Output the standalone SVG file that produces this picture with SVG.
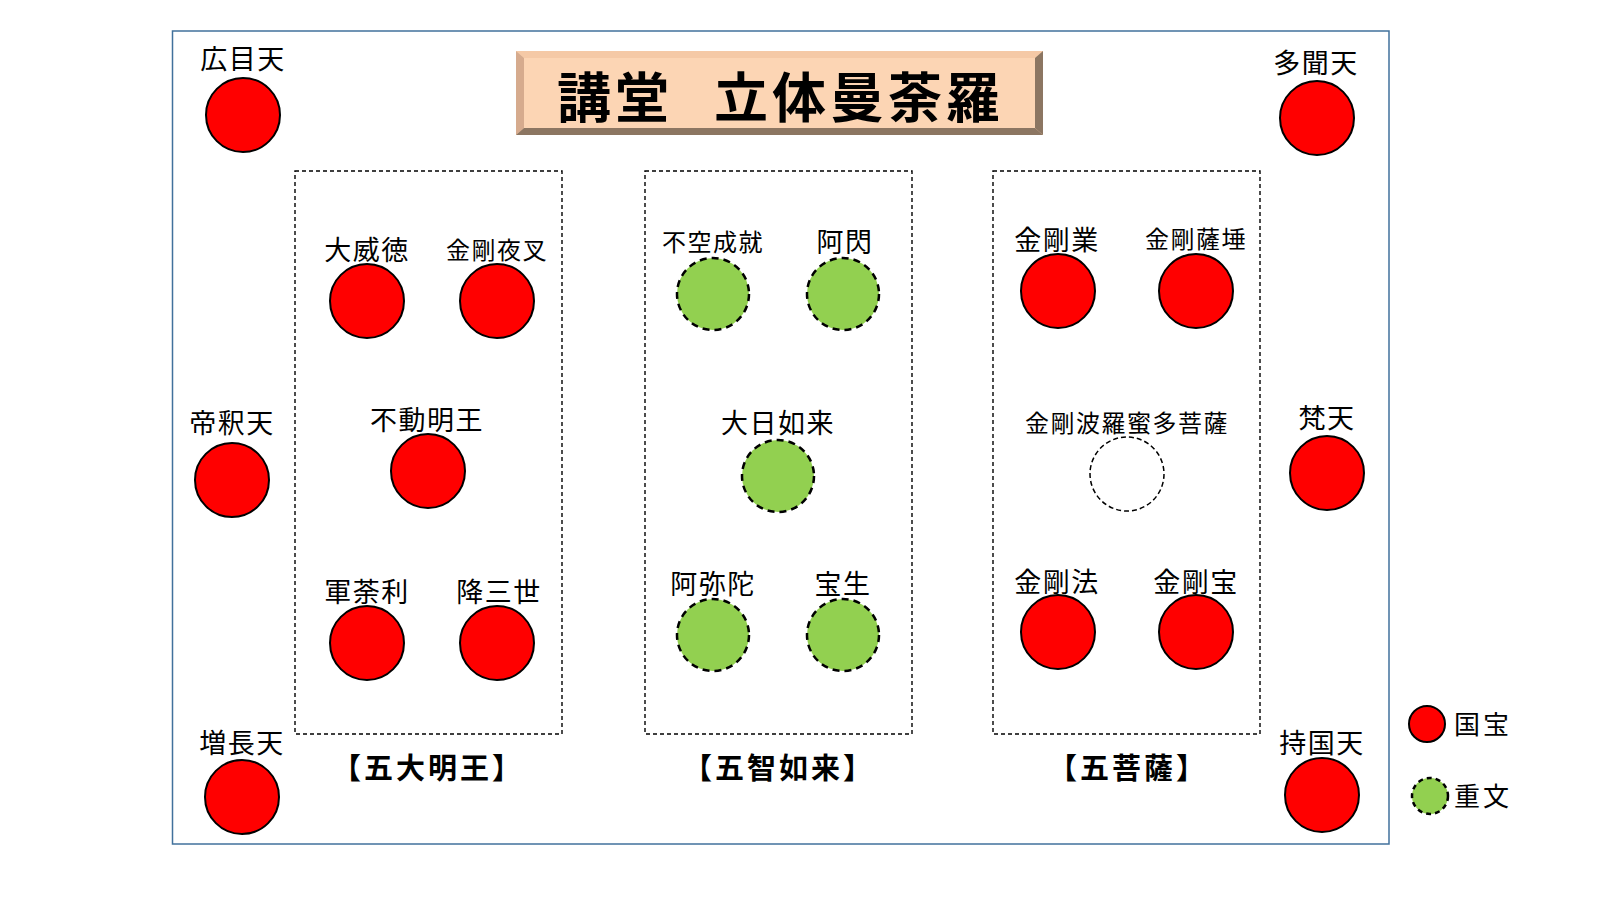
<svg xmlns="http://www.w3.org/2000/svg" width="1600" height="899" viewBox="0 0 1600 899">
<style>
text{font-family:"Noto Sans CJK JP","Noto Sans CJK SC",sans-serif;fill:#000;text-anchor:middle}
.lb{font-size:27px;letter-spacing:1.5px}
.ls{font-size:24px;letter-spacing:1.5px}
.grp{font-size:29px;font-weight:bold;letter-spacing:3px}
.nt{fill:#FF0000;stroke:#000;stroke-width:2}
.jb{fill:#92D050;stroke:#000;stroke-width:2.5;stroke-dasharray:7 5}
.un{fill:#fff;stroke:#000;stroke-width:1.5;stroke-dasharray:5 3}
.box{fill:none;stroke:#000;stroke-width:1.4;stroke-dasharray:4 3}
.leg{font-size:26px;text-anchor:start;letter-spacing:3px}
</style>
<rect width="1600" height="899" fill="#fff"/>
<rect x="172.5" y="31" width="1216.5" height="813" fill="none" stroke="#41719C" stroke-width="1.5"/>
<g id="title">
<rect x="516" y="51" width="527" height="84" fill="#FCD5B4"/>
<polygon points="516,51 1043,51 1035,58 524,58" fill="#F5C9A6"/>
<polygon points="516,51 524,58 524,128 516,135" fill="#D6AB8E"/>
<polygon points="1043,51 1043,135 1035,128 1035,58" fill="#8C7662"/>
<polygon points="516,135 524,128 1035,128 1043,135" fill="#8C7662"/>
<text y="118" style="font-size:54px;font-weight:bold;letter-spacing:4px"><tspan x="615">講堂</tspan><tspan x="859">立体曼荼羅</tspan></text>
</g>
<g id="boxes">
<rect class="box" x="295" y="171" width="267" height="563"/>
<rect class="box" x="645" y="171" width="267" height="563"/>
<rect class="box" x="993" y="171" width="267" height="563"/>
</g>
<g id="komokuten"><text class="lb" x="243" y="69">広目天</text><circle class="nt" cx="243" cy="115" r="37"/></g>
<g id="tamonten"><text class="lb" x="1316" y="73">多聞天</text><circle class="nt" cx="1317" cy="118" r="37"/></g>
<g id="taishakuten"><text class="lb" x="232" y="433">帝釈天</text><circle class="nt" cx="232" cy="480" r="37"/></g>
<g id="bonten"><text class="lb" x="1327" y="428">梵天</text><circle class="nt" cx="1327" cy="473" r="37"/></g>
<g id="zochoten"><text class="lb" x="242" y="753">増長天</text><circle class="nt" cx="242" cy="797" r="37"/></g>
<g id="jikokuten"><text class="lb" x="1322" y="753">持国天</text><circle class="nt" cx="1322" cy="795" r="37"/></g>
<g id="daiitoku"><text class="lb" x="367" y="260">大威徳</text><circle class="nt" cx="367" cy="301" r="37"/></g>
<g id="kongoyasha"><text class="ls" x="497" y="259">金剛夜叉</text><circle class="nt" cx="497" cy="301" r="37"/></g>
<g id="fudo"><text class="lb" x="427" y="430">不動明王</text><circle class="nt" cx="428" cy="471" r="37"/></g>
<g id="gundari"><text class="lb" x="367" y="602">軍荼利</text><circle class="nt" cx="367" cy="643" r="37"/></g>
<g id="gosanze"><text class="lb" x="499" y="602">降三世</text><circle class="nt" cx="497" cy="643" r="37"/></g>
<g id="fukujoju"><text class="ls" x="713" y="251">不空成就</text><circle class="jb" cx="713" cy="294" r="36"/></g>
<g id="ashuku"><text class="lb" x="845" y="252">阿閃</text><circle class="jb" cx="843" cy="294" r="36"/></g>
<g id="dainichi"><text class="lb" x="778" y="433">大日如来</text><circle class="jb" cx="778" cy="476" r="36"/></g>
<g id="amida"><text class="lb" x="713" y="594">阿弥陀</text><circle class="jb" cx="713" cy="635" r="36"/></g>
<g id="hosho"><text class="lb" x="843" y="594">宝生</text><circle class="jb" cx="843" cy="635" r="36"/></g>
<g id="kongogo"><text class="lb" x="1057" y="250">金剛業</text><circle class="nt" cx="1058" cy="291" r="37"/></g>
<g id="kongosatta"><text class="ls" x="1196" y="248">金剛薩埵</text><circle class="nt" cx="1196" cy="291" r="37"/></g>
<g id="kongoharamita"><text class="ls" x="1127" y="432">金剛波羅蜜多菩薩</text><circle class="un" cx="1127" cy="474" r="37"/></g>
<g id="kongoho"><text class="lb" x="1057" y="592">金剛法</text><circle class="nt" cx="1058" cy="632" r="37"/></g>
<g id="kongoho2"><text class="lb" x="1196" y="592">金剛宝</text><circle class="nt" cx="1196" cy="632" r="37"/></g>
<g id="groups">
<text class="grp" x="428" y="779">【五大明王】</text>
<text class="grp" x="779" y="779">【五智如来】</text>
<text class="grp" x="1128" y="779">【五菩薩】</text>
</g>
<g id="legend">
<circle class="nt" cx="1427" cy="724" r="18"/><text class="leg" x="1454" y="734">国宝</text>
<circle class="jb" cx="1430" cy="796" r="18" style="stroke-dasharray:5 4"/><text class="leg" x="1454" y="806">重文</text>
</g>
</svg>
